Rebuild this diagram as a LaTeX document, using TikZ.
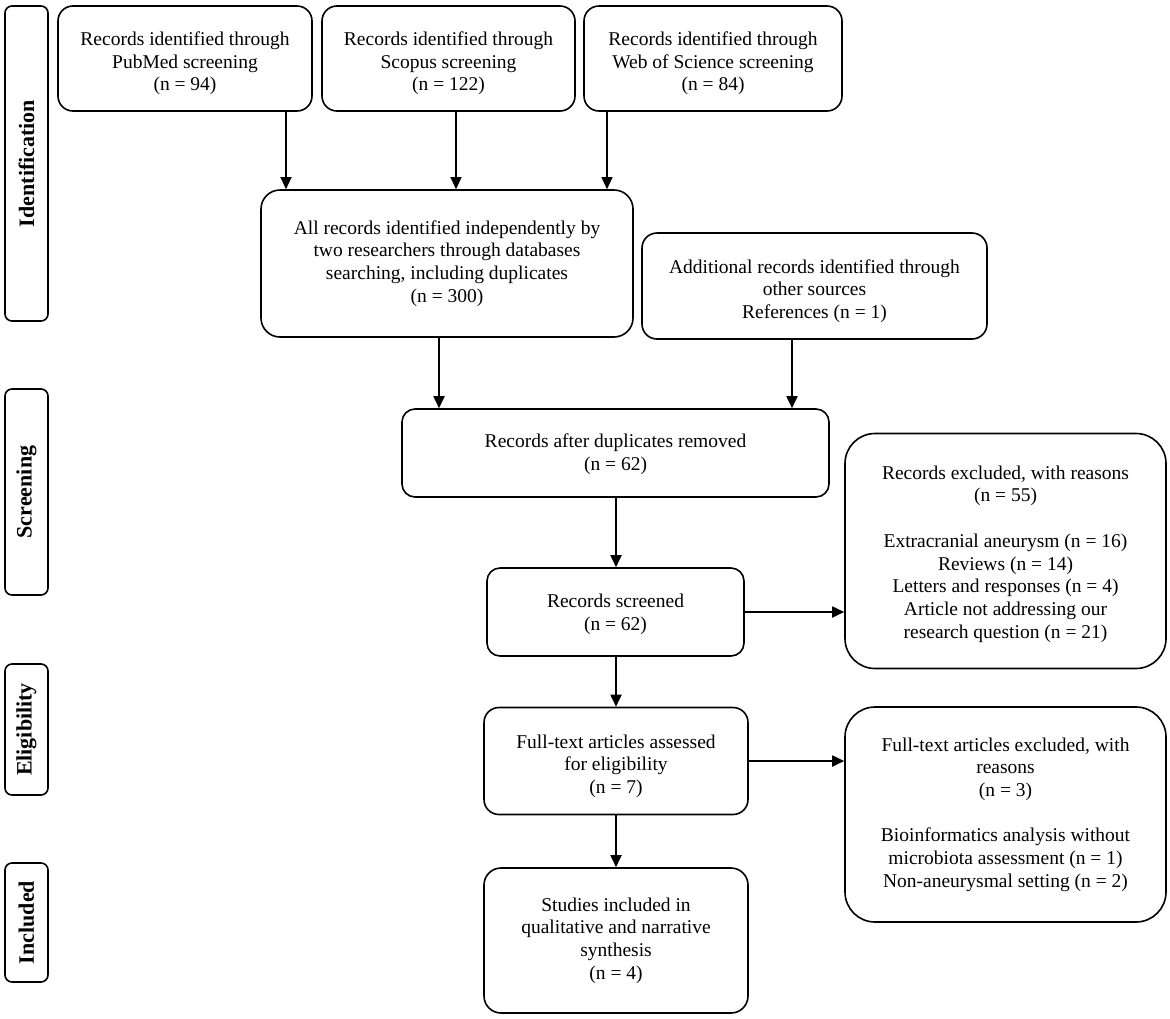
\documentclass[tikz,border=0pt]{standalone}
\usepackage{fontspec}
\setmainfont{Liberation Serif}
\usetikzlibrary{arrows.meta}
\begin{document}
\begin{tikzpicture}[x=1pt,y=-1pt,
  box/.style={draw, line width=1.6pt, rectangle, rounded corners=15pt, inner sep=0pt},
  txt/.style={inner sep=0pt, align=center, font=\fontsize{19.5}{22.7}\selectfont},
  lab/.style={draw, line width=1.6pt, rectangle, rounded corners=7pt, inner sep=0pt,
     minimum width=43pt, font=\fontsize{22}{26}\selectfont\bfseries},
  thinarr/.style={line width=1.1pt, -{Triangle[length=12pt,width=11pt]}},
  arr/.style={line width=1.8pt, -{Triangle[length=12pt,width=11pt]}}]
\useasboundingbox (0,0) rectangle (1170,1018);

% stage labels
\node[lab, minimum height=315pt] (l1) at (26.5,163.5) {\rotatebox{90}{Identification}};
\node[lab, minimum height=206pt] (l2) at (26.5,492) {\rotatebox{90}{Screening}};
\node[lab, minimum height=131pt] (l3) at (26.5,729.5) {\rotatebox{90}{Eligibility}};
\node[lab, minimum height=119pt] (l4) at (26.5,922.5) {\rotatebox{90}{Included}};

% boxes
\node[box, minimum width=254pt, minimum height=105pt] (pub) at (185,58.5) {};
\node[box, minimum width=253pt, minimum height=105pt] (sco) at (448.5,58.5) {};
\node[box, minimum width=258pt, minimum height=105pt] (wos) at (713,58.5) {};
\node[box, rounded corners=19pt, minimum width=372pt, minimum height=147pt] (all) at (447,263.5) {};
\node[box, minimum width=345pt, minimum height=106pt] (add) at (814.5,286) {};
\node[box, rounded corners=13pt, minimum width=427pt, minimum height=88pt] (dup) at (615.5,453) {};
\node[box, rounded corners=13pt, minimum width=257pt, minimum height=88pt] (scr) at (615.5,612) {};
\node[box, rounded corners=30pt, minimum width=321pt, minimum height=235pt] (exa) at (1005.5,551) {};
\node[box, minimum width=264pt, minimum height=107pt] (ful) at (616,761) {};
\node[box, rounded corners=30pt, minimum width=321pt, minimum height=215pt] (exb) at (1005.5,814.5) {};
\node[box, rounded corners=17pt, minimum width=264pt, minimum height=145pt] (inc) at (616,940.5) {};

% texts
\node[txt] (pubt) at ([yshift=-5pt]pub.center) {Records identified through\\PubMed screening\\(n = 94)};
\node[txt] (scot) at ([yshift=-5pt]sco.center) {Records identified through\\Scopus screening\\(n = 122)};
\node[txt] (wost) at ([yshift=-5pt]wos.center) {Records identified through\\Web of Science screening\\(n = 84)};
\node[txt] (allt) at (all.center) {All records identified independently by\\two researchers through databases\\searching, including duplicates\\(n = 300)};
\node[txt] (addt) at ([yshift=-5pt]add.center) {Additional records identified through\\other sources\\References (n = 1)};
\node[txt] (dupt) at ([yshift=-1pt]dup.center) {Records after duplicates removed\\(n = 62)};
\node[txt] (scrt) at ([yshift=-2pt]scr.center) {Records screened\\(n = 62)};
\node[txt] (exat) at ([yshift=-3pt]exa.center) {Records excluded, with reasons\\(n = 55)\\[22.7pt]Extracranial aneurysm (n = 16)\\Reviews (n = 14)\\Letters and responses (n = 4)\\Article not addressing our\\research question (n = 21)};
\node[txt] (fult) at ([yshift=-5pt]ful.center) {Full-text articles assessed\\for eligibility\\(n = 7)};
\node[txt] (exbt) at (exb.center) {Full-text articles excluded, with\\reasons\\(n = 3)\\[22.7pt]Bioinformatics analysis without\\microbiota assessment (n = 1)\\Non-aneurysmal setting (n = 2)};
\node[txt] (inct) at (inc.center) {Studies included in\\qualitative and narrative\\synthesis\\(n = 4)};

% arrow x positions
\coordinate (xa) at (286,0);
\coordinate (xb) at (456,0);
\coordinate (xc) at (607,0);
\coordinate (xd) at (439,0);
\coordinate (xe) at (792,0);
\coordinate (xf) at (616,0);

\draw[thinarr] (pub.south -| xa) -- (all.north -| xa);
\draw[thinarr] (sco.south -| xb) -- (all.north -| xb);
\draw[thinarr] (wos.south -| xc) -- (all.north -| xc);
\draw[arr] (all.south -| xd) -- (dup.north -| xd);
\draw[arr] (add.south -| xe) -- (dup.north -| xe);
\draw[arr] (dup.south -| xf) -- (scr.north -| xf);
\draw[arr] (scr.east) -- (exa.west |- scr.east);
\draw[arr] (scr.south -| xf) -- (ful.north -| xf);
\draw[arr] (ful.east) -- (exb.west |- ful.east);
\draw[arr] (ful.south -| xf) -- (inc.north -| xf);
\end{tikzpicture}
\end{document}
